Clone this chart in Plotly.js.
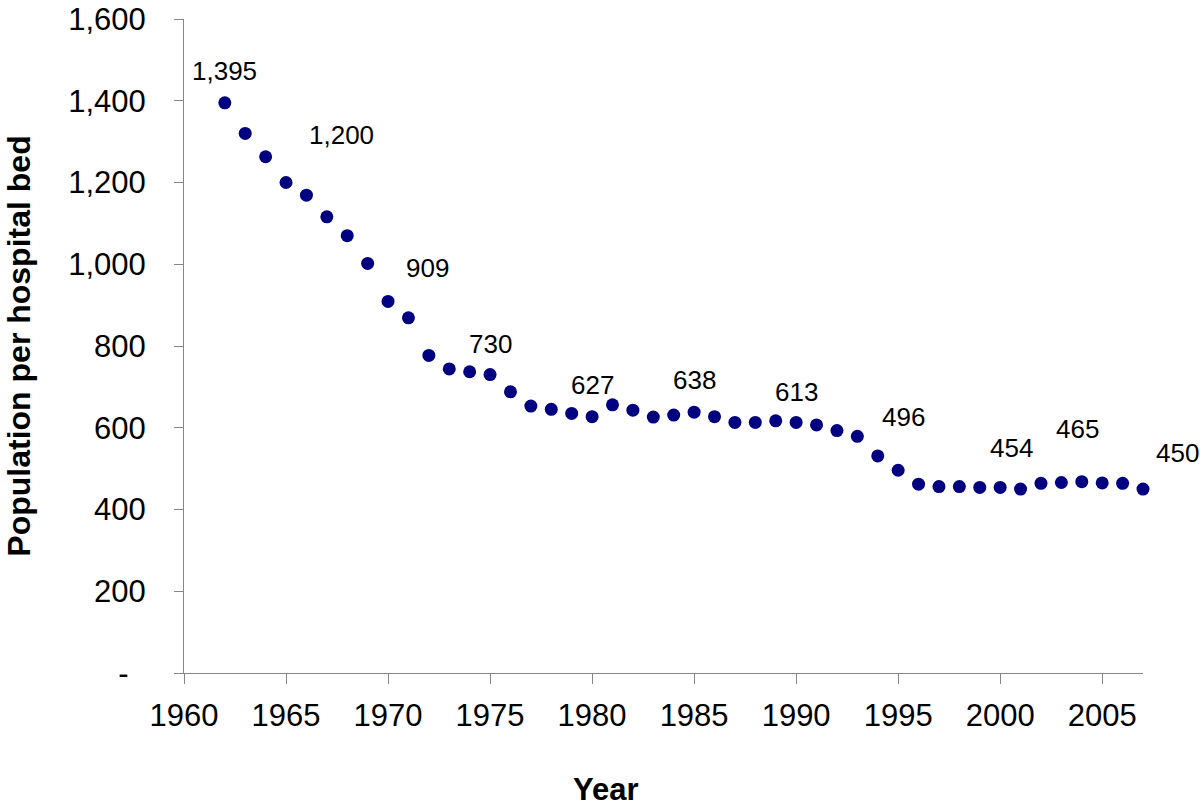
<!DOCTYPE html>
<html>
<head>
<meta charset="utf-8">
<script src="https://cdn.plot.ly/plotly-3.0.1.min.js"></script>
<style>
  html, body { margin: 0; padding: 0; background: #ffffff; }
  #chart { width: 1200px; height: 808px; }
</style>
</head>
<body>
<div id="chart"></div>
<script>
// ---- Data ----
const years = [
  1962, 1963, 1964, 1965, 1966, 1967, 1968, 1969, 1970, 1971,
  1972, 1973, 1974, 1975, 1976, 1977, 1978, 1979, 1980, 1981,
  1982, 1983, 1984, 1985, 1986, 1987, 1988, 1989, 1990, 1991,
  1992, 1993, 1994, 1995, 1996, 1997, 1998, 1999, 2000, 2001,
  2002, 2003, 2004, 2005, 2006, 2007
];
const populationPerBed = [
  1395, 1320, 1263, 1200, 1169, 1116, 1070, 1002, 909, 869,
  777, 744, 737, 730, 688, 653, 645, 635, 627, 656,
  643, 626, 631, 638, 627, 613, 613, 617, 613, 607,
  593, 579, 531, 496, 462, 456, 456, 454, 454, 450,
  464, 466, 468, 465, 464, 450
];
const labelledYears = [1962, 1965, 1970, 1975, 1980, 1985, 1990, 1995, 2000, 2005, 2007];
const xTickVals = [1960, 1965, 1970, 1975, 1980, 1985, 1990, 1995, 2000, 2005];
const xTickText = ['1960', '1965', '1970', '1975', '1980', '1985', '1990', '1995', '2000', '2005'];
const yTickVals = [0, 200, 400, 600, 800, 1000, 1200, 1400, 1600];
const yTickText = ['-\u00a0\u00a0', '200', '400', '600', '800', '1,000', '1,200', '1,400', '1,600'];
const xTitle = 'Year';
const yTitle = 'Population per hospital bed';

// ---- Label placement (style only: pixel offsets from each labelled point) ----
const labelShift = {
  1962: [0, 32], 1965: [55, 48], 1970: [39, 33], 1975: [0, 31], 1980: [0, 32],
  1985: [0, 32], 1990: [0, 30], 1995: [5, 53], 2000: [11, 39], 2005: [-25, 54], 2007: [34, 36]
};

const FONT = 'Liberation Sans, Arial, sans-serif';
const AXIS_GREY = '#878787';

const fmt = v => v.toLocaleString('en-US');

const annotations = labelledYears.map(yr => {
  const i = years.indexOf(yr);
  const s = labelShift[yr];
  return {
    x: yr, y: populationPerBed[i], xref: 'x', yref: 'y',
    text: fmt(populationPerBed[i]), showarrow: false,
    xanchor: 'center', yanchor: 'middle',
    xshift: s[0], yshift: s[1],
    font: { family: FONT, size: 26, color: '#000000' }
  };
});

annotations.push({
  xref: 'paper', yref: 'paper', x: 0.44, y: -0.178,
  xanchor: 'center', yanchor: 'middle', showarrow: false,
  text: xTitle,
  font: { family: FONT, size: 31, color: '#000000', weight: 'bold' }
});

const trace = {
  type: 'scatter', mode: 'markers',
  x: years, y: populationPerBed,
  marker: { color: '#000080', size: 13 },
  cliponaxis: false,
  hoverinfo: 'x+y'
};

const layout = {
  width: 1200, height: 808,
  margin: { l: 184, r: 57, t: 19, b: 135, pad: 0 },
  paper_bgcolor: '#ffffff', plot_bgcolor: '#ffffff',
  showlegend: false,
  font: { family: FONT, color: '#000000' },
  xaxis: {
    range: [1960, 2007],
    tickmode: 'array', tickvals: xTickVals, ticktext: xTickText,
    ticks: 'outside', ticklen: 10, tickwidth: 1, tickcolor: AXIS_GREY,
    showline: true, linecolor: AXIS_GREY, linewidth: 1,
    showgrid: false, zeroline: false,
    tickfont: { family: FONT, size: 31, color: '#000000' },
    ticklabelstandoff: 5
  },
  yaxis: {
    range: [0, 1600],
    tickmode: 'array', tickvals: yTickVals, ticktext: yTickText,
    ticks: 'outside', ticklen: 9, tickwidth: 1, tickcolor: AXIS_GREY,
    showline: true, linecolor: AXIS_GREY, linewidth: 1,
    showgrid: false, zeroline: false,
    tickfont: { family: FONT, size: 31, color: '#000000' },
    ticklabelstandoff: 22,
    title: {
      text: yTitle,
      font: { family: FONT, size: 32, color: '#000000', weight: 'bold' },
      standoff: 28
    }
  },
  annotations: annotations
};

Plotly.newPlot('chart', [trace], layout, { displayModeBar: false, staticPlot: true });
</script>
</body>
</html>
